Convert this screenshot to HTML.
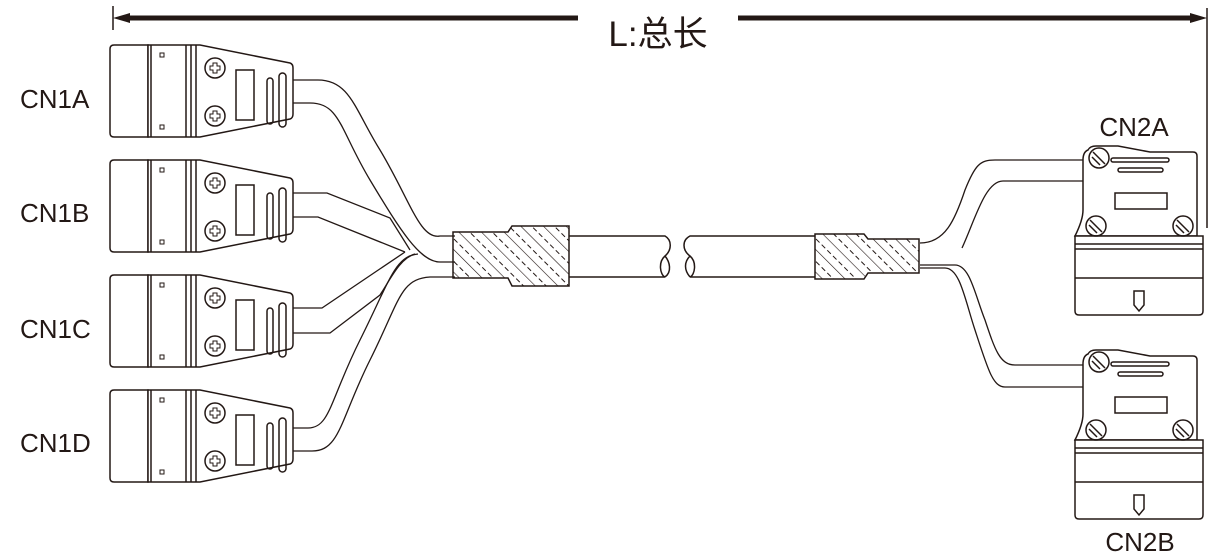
<!DOCTYPE html>
<html><head><meta charset="utf-8"><style>
html,body{margin:0;padding:0;background:#fff;}
svg{display:block;}
text{font-family:"Liberation Sans","Noto Sans CJK SC",sans-serif;fill:#231815;}
</style></head><body>
<svg width="1216" height="559" viewBox="0 0 1216 559" xmlns="http://www.w3.org/2000/svg">
<defs>
<pattern id="hatch" width="16" height="16" patternUnits="userSpaceOnUse" patternTransform="rotate(-45)">
<line x1="0" y1="0" x2="0" y2="16" stroke="#231815" stroke-width="1.2"/>
<line x1="8" y1="2" x2="8" y2="7" stroke="#231815" stroke-width="1"/>
<line x1="8" y1="10" x2="8" y2="15" stroke="#231815" stroke-width="1"/>
</pattern>
<g id="lc" fill="none" stroke="#231815" stroke-width="1.5">
<path d="M114,0 H148 V92 H114 Q110,92 110,88 V4 Q110,0 114,0 Z" fill="#fff"/>
<path d="M148,0 H200 L290,18 Q293,19 293,23 V69 Q293,73 290,74 L200,92 H148 Z" fill="#fff"/>
<line x1="151" y1="0" x2="151" y2="92"/>
<line x1="186" y1="0" x2="186" y2="92"/>
<line x1="191" y1="0" x2="191" y2="92"/>
<line x1="196" y1="0" x2="196" y2="92"/>
<rect x="160" y="8" width="4" height="4" stroke-width="1"/>
<rect x="160" y="80" width="4" height="4" stroke-width="1"/>
<circle cx="215" cy="23" r="10"/>
<circle cx="215" cy="71" r="10"/>
<path d="M213,18 h4 v3 h3 v4 h-3 v3 h-4 v-3 h-3 v-4 h3 z" stroke-width="1"/>
<path d="M213,66 h4 v3 h3 v4 h-3 v3 h-4 v-3 h-3 v-4 h3 z" stroke-width="1"/>
<rect x="236" y="25" width="18" height="50"/>
<rect x="267" y="33" width="6" height="46" rx="3"/>
<rect x="279" y="28" width="7" height="54" rx="3.5"/>
</g>
<g id="rc" fill="none" stroke="#231815" stroke-width="1.5">
<path d="M1088,150 Q1090,146 1096,146 L1118,146 L1150,152 L1193,152 Q1197,152 1197,156 V236 H1075 Q1083,220 1083,210 V160 Q1083,152 1088,150 Z" fill="#fff"/>
<path d="M1075,236 H1203 V311 Q1203,315 1199,315 H1079 Q1075,315 1075,311 Z" fill="#fff"/>
<line x1="1075" y1="244" x2="1203" y2="244"/>
<line x1="1075" y1="249" x2="1203" y2="249"/>
<line x1="1075" y1="278" x2="1203" y2="278"/>
<path d="M1134,291 V305 L1139,311 L1144,305 V291 Z"/>
<circle cx="1099" cy="158" r="10" fill="#fff"/>
<line x1="1093" y1="152" x2="1105" y2="164"/><line x1="1092" y1="157" x2="1100" y2="165"/>
<rect x="1111" y="158" width="58" height="4" rx="2"/>
<rect x="1118" y="168" width="45" height="4" rx="2"/>
<rect x="1115" y="193" width="52" height="16"/>
<circle cx="1096" cy="226" r="10"/>
<line x1="1090" y1="220" x2="1102" y2="232"/><line x1="1089" y1="225" x2="1097" y2="233"/>
<circle cx="1183" cy="226" r="10"/>
<line x1="1177" y1="220" x2="1189" y2="232"/><line x1="1176" y1="225" x2="1184" y2="233"/>
</g>
</defs>

<g stroke="#231815">
<line x1="113" y1="6" x2="113" y2="30" stroke-width="1.5"/>
<line x1="122" y1="18" x2="578" y2="18" stroke-width="5"/>
<line x1="738" y1="18" x2="1196" y2="18" stroke-width="5"/>
<line x1="1207" y1="8" x2="1207" y2="228" stroke-width="1.5"/>
</g>
<polygon points="113,18 130,13 130,23" fill="#231815"/>
<polygon points="1207,18 1190,13 1190,23" fill="#231815"/>
<text x="658" y="46" font-size="35" text-anchor="middle">L:总长</text>

<g fill="none" stroke="#231815" stroke-width="1.3">
<path d="M293,80 H318 C350,80 355,110 380,150 C410,200 420,240 440,236 H455"/>
<path d="M293,103 H310 C340,103 340,130 370,180 C400,230 420,262 440,262 H455"/>
<path d="M293,193 H327 L390,218 L410,250"/>
<path d="M293,217 H318 L405,252"/>
<path d="M293,308 H322 L405,252"/>
<path d="M293,333 H330 L380,295 C390,280 400,258 415,254"/>
<path d="M293,428 H308 C330,428 330,400 360,340 C390,280 395,256 418,254"/>
<path d="M293,451 H312 C340,451 340,420 370,360 C400,300 400,279 430,277 H455"/>
</g>

<use href="#lc" transform="translate(0,45)"/>
<use href="#lc" transform="translate(0,160)"/>
<use href="#lc" transform="translate(0,275)"/>
<use href="#lc" transform="translate(0,390)"/>

<text x="20" y="108" font-size="26">CN1A</text>
<text x="20" y="222" font-size="26">CN1B</text>
<text x="20" y="338" font-size="26">CN1C</text>
<text x="20" y="452" font-size="26">CN1D</text>

<g fill="none" stroke="#231815" stroke-width="1.5">
<path d="M569,236 H665 C672,240 672,250 665,256 C658,262 660,275 665,277 H569"/>
<path d="M815,236 H690 C682,240 682,250 690,256 C697,262 695,275 690,277 H815"/>
<path d="M665,256 C670,262 672,272 665,277"/>
<path d="M690,256 C684,262 684,270 690,277"/>
</g>
<path d="M453,232 H508 L512,226 H569 V286 H512 L508,278 H453 Z" fill="url(#hatch)" stroke="#231815" stroke-width="1.5"/>
<path d="M815,234 H864 L868,239 H919 V273 H868 L864,279 H815 Z" fill="url(#hatch)" stroke="#231815" stroke-width="1.5"/>

<g fill="none" stroke="#231815" stroke-width="1.3">
<path d="M920,243 C945,243 955,220 965,190 C975,165 980,160 995,160 H1083"/>
<path d="M962,248 C975,220 985,181 1003,181 H1083"/>
<path d="M920,265 H955 C970,265 975,295 985,320 C995,350 1000,365 1015,365 H1083"/>
<path d="M920,268 H945 C960,268 965,300 975,330 C988,370 993,387 1005,387 H1083"/>
</g>

<use href="#rc"/>
<use href="#rc" transform="translate(0,204)"/>

<text x="1134" y="136" font-size="26" text-anchor="middle">CN2A</text>
<text x="1140" y="551" font-size="26" text-anchor="middle">CN2B</text>
</svg>
</body></html>
